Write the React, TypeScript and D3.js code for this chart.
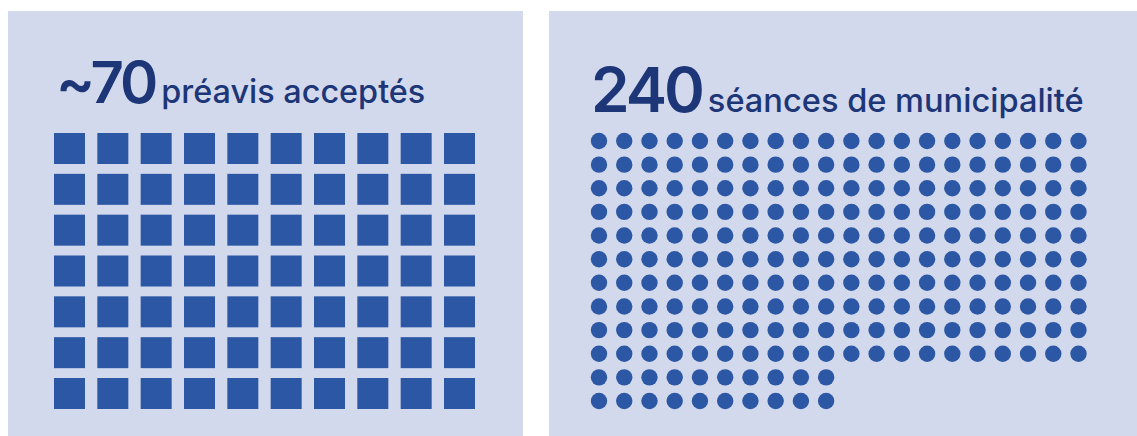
import React from "react";
import * as d3 from "d3";

const W = 1137;
const H = 436;

const panels = ["préavis", "séances"];
const headlineNumbers = ["~70", "240"];
const headlineLabels = ["préavis acceptés", "séances de municipalité"];
const unitCounts = [70, 220];
const unitColumns = [10, 20];

const BG = "#d3d9ed";
const MARK = "#2c57a5";
const TEXT = "#1d3677";
const FONT = "Inter, 'Noto Sans', sans-serif";

export default function App() {
  // left panel grid
  const sqCols = unitColumns[0];
  const sqRows = Math.ceil(unitCounts[0] / sqCols);
  const sx = d3.scaleLinear().domain([0, sqCols - 1]).range([54, 444]);
  const sy = d3.scaleLinear().domain([0, sqRows - 1]).range([133, 378]);
  const sqSize = 31;
  const squares = d3.range(unitCounts[0]).map((i) => ({ c: i % sqCols, r: Math.floor(i / sqCols) }));

  // right panel grid
  const dCols = unitColumns[1];
  const dx = d3.scaleLinear().domain([0, dCols - 1]).range([599, 1078.5]);
  const dy = d3.scaleLinear().domain([0, 11]).range([141, 401]);
  const dots: { c: number; r: number }[] = [];
  const fullRows = 10;
  for (let i = 0; i < unitCounts[1]; i++) {
    if (i < fullRows * dCols) dots.push({ c: i % dCols, r: Math.floor(i / dCols) });
    else {
      const j = i - fullRows * dCols;
      dots.push({ c: j % 10, r: fullRows + Math.floor(j / 10) });
    }
  }

  return (
    <svg
      width={W}
      height={H}
      style={{ position: "absolute", left: 0, top: 0, display: "block" }}
      fontFamily={FONT}
    >
      <title>{panels.join(" / ")}</title>
      <rect x={0} y={0} width={W} height={H} fill="#ffffff" />
      <rect x={8} y={11} width={515} height={H - 11} fill={BG} />
      <rect x={549} y={11} width={W - 549} height={H - 11} fill={BG} />

      <text x={56} y={103} fill={TEXT}>
        <tspan fontSize={58} fontWeight={600} letterSpacing={-3}>{headlineNumbers[0]}</tspan>
        <tspan dx={6} fontSize={32.4} fontWeight={500}>{headlineLabels[0]}</tspan>
      </text>
      <text x={591} y={112} fill={TEXT}>
        <tspan fontSize={62} fontWeight={600} letterSpacing={-3}>{headlineNumbers[1]}</tspan>
        <tspan dx={6} fontSize={32.6} fontWeight={500}>{headlineLabels[1]}</tspan>
      </text>

      <g>
        {squares.map((d, i) => (
          <rect key={i} x={sx(d.c)} y={sy(d.r)} width={sqSize} height={sqSize} fill={MARK} />
        ))}
      </g>
      <g>
        {dots.map((d, i) => (
          <circle key={i} cx={dx(d.c)} cy={dy(d.r)} r={8.2} fill={MARK} />
        ))}
      </g>
    </svg>
  );
}
